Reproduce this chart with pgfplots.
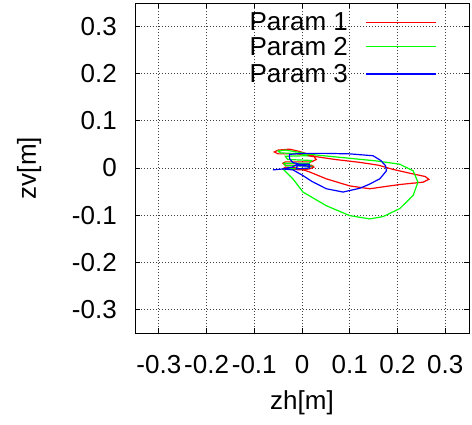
\documentclass[border=0pt]{standalone}
\usepackage{pgfplots}
\pgfplotsset{compat=1.18}
\usepackage{fontspec}
\setmainfont{Liberation Sans}
\begin{document}
\begin{tikzpicture}[x=1pt,y=1pt]
\path[use as bounding box] (-135,-91) rectangle (337,333);
\begin{axis}[
  at={(0,0)}, anchor=south west,
  scale only axis, width=334pt, height=330pt,
  xmin=-0.35, xmax=0.35, ymin=-0.35, ymax=0.35,
  xtick={-0.3,-0.2,-0.1,0,0.1,0.2,0.3},
  ytick={-0.3,-0.2,-0.1,0,0.1,0.2,0.3},
  xticklabels={-0.3,-0.2,-0.1,0,0.1,0.2,0.3},
  yticklabels={-0.3,-0.2,-0.1,0,0.1,0.2,0.3},
  tick align=inside, tick pos=both,
  major tick length=5pt,
  grid=major,
  major grid style={dash pattern=on 0.8pt off 2.2pt, black!75, line width=0.8pt},
  axis line style={line width=0.8pt},
  tick style={line width=0.8pt, black},
  ticklabel style={font=\fontsize{26}{28}\selectfont, inner sep=0pt},
  xticklabel style={anchor=center, yshift=-32pt},
  yticklabel style={anchor=east, xshift=-18pt},
  xlabel={zh[m]}, ylabel={zv[m]},
  label style={font=\fontsize{26}{28}\selectfont},
  xlabel style={at={(axis description cs:0.5,-0.212)}, anchor=center},
  ylabel style={at={(axis description cs:-0.317,0.5)}, anchor=center},
]
\addplot[red, line width=1.2pt] coordinates {
(0.0,-0.004) (0.015,-0.002) (0.025,0.002) (0.020,0.006) (-0.035,0.006) (-0.040,0.010) (-0.035,0.013) (0.020,0.013) (0.030,0.018) (0.025,0.024) (-0.010,0.030) (-0.050,0.030) (-0.058,0.034) (-0.050,0.038) (-0.026,0.040) (-0.005,0.035) (0.030,0.024) (0.070,0.018) (0.121,0.012) (0.160,0.006) (0.191,-0.003) (0.230,-0.012) (0.258,-0.018) (0.266,-0.024) (0.254,-0.030) (0.205,-0.035) (0.170,-0.040) (0.142,-0.044) (0.100,-0.038) (0.051,-0.023) (0.015,-0.008) (-0.010,0.000) (-0.035,0.002) (-0.040,-0.002) (0.0,-0.004)
};
\addplot[green, line width=1.2pt] coordinates {
(-0.040,-0.002) (0.010,-0.001) (0.020,0.004) (-0.035,0.005) (-0.038,0.010) (0.015,0.010) (0.020,0.016) (-0.030,0.018) (-0.035,0.025) (0.010,0.026) (0.000,0.030) (-0.045,0.032) (-0.050,0.036) (-0.035,0.038) (-0.010,0.034) (0.016,0.029) (0.086,0.022) (0.156,0.015) (0.205,0.008) (0.233,-0.006) (0.243,-0.030) (0.233,-0.058) (0.205,-0.086) (0.170,-0.103) (0.142,-0.108) (0.100,-0.101) (0.051,-0.080) (0.002,-0.051) (-0.019,-0.023) (-0.040,-0.002)
};
\addplot[blue, line width=1.2pt] coordinates {
(-0.061,-0.004) (-0.040,-0.002) (-0.020,0.002) (-0.010,0.008) (0.015,0.008) (0.016,0.000) (-0.012,-0.002) (-0.010,0.005) (0.010,0.004) (-0.020,0.012) (-0.026,0.020) (-0.026,0.029) (0.000,0.031) (0.051,0.031) (0.100,0.030) (0.149,0.026) (0.165,0.016) (0.175,0.005) (0.177,-0.006) (0.163,-0.023) (0.140,-0.035) (0.121,-0.043) (0.086,-0.051) (0.051,-0.044) (0.020,-0.028) (0.002,-0.016) (-0.019,-0.004) (-0.040,-0.002) (-0.061,-0.004)
};
% legend
\node[anchor=east, inner sep=0pt, font=\fontsize{26}{26}\selectfont, text=black] at (axis description cs:0.638,0.942) {Param 1};
\node[anchor=east, inner sep=0pt, font=\fontsize{26}{26}\selectfont, text=black] at (axis description cs:0.638,0.867) {Param 2};
\node[anchor=east, inner sep=0pt, font=\fontsize{26}{26}\selectfont, text=black] at (axis description cs:0.638,0.785) {Param 3};
\draw[red, line width=1.2pt] (axis description cs:0.692,0.942) -- (axis description cs:0.901,0.942);
\draw[green, line width=1.2pt] (axis description cs:0.692,0.867) -- (axis description cs:0.901,0.867);
\draw[blue, line width=1.2pt] (axis description cs:0.692,0.785) -- (axis description cs:0.901,0.785);
\end{axis}
\end{tikzpicture}
\end{document}
